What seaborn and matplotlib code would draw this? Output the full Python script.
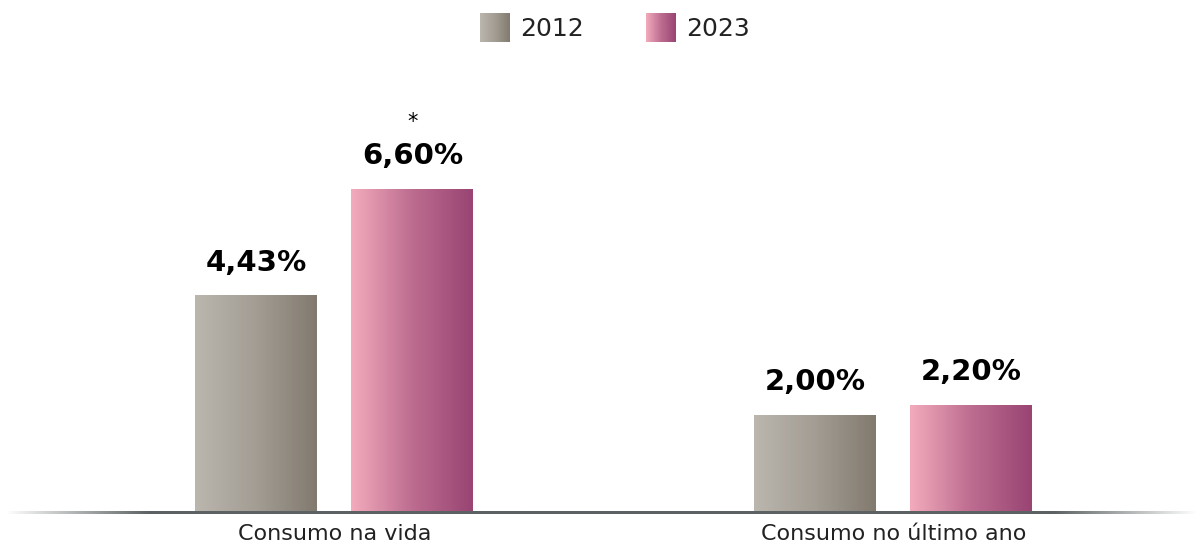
import numpy as np
import pandas as pd
import matplotlib
matplotlib.use("Agg")
import matplotlib.pyplot as plt
import seaborn as sns
from matplotlib.colors import LinearSegmentedColormap
from matplotlib.legend_handler import HandlerBase
from matplotlib.image import BboxImage
from matplotlib.transforms import Bbox, TransformedBbox

# data
categorias = ["Consumo na vida", "Consumo no último ano"]
anos = ["2012", "2023"]
valores_2012 = [4.43, 2.00]
valores_2023 = [6.60, 2.20]
asterisco_2023 = [True, False]

df = pd.DataFrame({
    "categoria": categorias * 2,
    "ano": [anos[0]] * 2 + [anos[1]] * 2,
    "valor": valores_2012 + valores_2023,
})

# gradient colormaps (left -> right)
cmaps = {
    "2012": LinearSegmentedColormap.from_list("g", ["#bbb6ae", "#a39d94", "#827a6f"]),
    "2023": LinearSegmentedColormap.from_list("p", ["#f3abbc", "#bd6d90", "#994473"]),
}
grad = np.linspace(0, 1, 256).reshape(1, -1)

sns.set_theme(style="white")
plt.rcParams["font.family"] = ["DejaVu Sans"]

fig = plt.figure(figsize=(12.02, 5.47), dpi=100)
ax = fig.add_axes([0, 34 / 547, 1, 453 / 547])

sns.barplot(data=df, x="categoria", y="valor", hue="ano", order=categorias,
            hue_order=anos, width=0.558, gap=0.218, legend=False, ax=ax)

xlim = (-0.598, 1.552)
ylim = (0, 9.245)

# replace flat bars with gradient images
for ano, cont in zip(anos, ax.containers):
    for i, bar in enumerate(cont):
        x, w, h = bar.get_x(), bar.get_width(), bar.get_height()
        ax.imshow(grad, extent=[x, x + w, 0, h], aspect="auto",
                  cmap=cmaps[ano], zorder=2, interpolation="bicubic")
        bar.set_facecolor("none")
        bar.set_edgecolor("none")
        txt = f"{h:.2f}".replace(".", ",") + "%"
        ax.annotate(txt, (x + w / 2, h), xytext=(0, 24), textcoords="offset points",
                    ha="center", va="center", fontsize=21, fontweight="bold",
                    color="black")
        if ano == "2023" and asterisco_2023[i]:
            ax.annotate("*", (x + w / 2, h), xytext=(0, 49), textcoords="offset points",
                        ha="center", va="center", fontsize=15, color="black")

# baseline fading at the ends (thin gradient strip)
t = np.linspace(0, 1, 600)
fade = np.clip(np.minimum(t, 1 - t) / 0.12, 0, 1)
strip = np.zeros((1, 600, 4))
strip[..., :3] = np.array([0x5c, 0x62, 0x63]) / 255
strip[..., 3] = fade
ax.imshow(strip, extent=[0.004, 0.996, -0.0024, 0.0024], transform=ax.transAxes,
          aspect="auto", zorder=3, clip_on=False, interpolation="bilinear")
ax.set_xlim(xlim)
ax.set_ylim(ylim)

sns.despine(ax=ax, left=True, bottom=True)
ax.set_yticks([])
ax.set_xlabel("")
ax.set_ylabel("")
ax.tick_params(axis="x", length=0, pad=8, labelsize=16, labelcolor="#222222")


class GradHandler(HandlerBase):
    def create_artists(self, legend, orig_handle, xdescent, ydescent,
                       width, height, fontsize, trans):
        bb = TransformedBbox(Bbox.from_bounds(-xdescent, -ydescent, width, height), trans)
        img = BboxImage(bb, cmap=orig_handle, interpolation="bicubic")
        img.set_data(grad)
        return [img]


handles = [cmaps[a] for a in anos]
fig.legend(handles, anos, handler_map={LinearSegmentedColormap: GradHandler()},
           loc="center", bbox_to_anchor=(615 / 1202, 1 - 28 / 547), ncol=2,
           frameon=False, fontsize=18, handlelength=1.2, handleheight=1.35,
           handletextpad=0.4, columnspacing=2.5, labelcolor="#222222")

fig.savefig("out.png", dpi=100)
